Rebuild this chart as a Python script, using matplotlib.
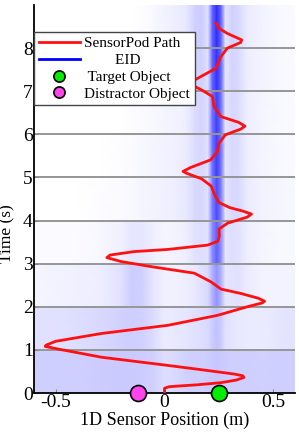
import numpy as np
import matplotlib.pyplot as plt
from matplotlib.colors import LinearSegmentedColormap

plt.rcParams['font.family'] = ['Liberation Serif', 'DejaVu Serif']

# EID rows, one per second (t 0-1, 1-2, ... 8-9), sampled at these positions
eid_x = [-0.6, -0.5, -0.4, -0.3, -0.2, -0.15, -0.1, -0.05, 0.0, 0.05, 0.1, 0.14,
         0.17, 0.2, 0.22, 0.24, 0.26, 0.28, 0.31, 0.34, 0.38, 0.45, 0.52, 0.6]
eid_t = [0, 1, 2, 3, 4, 5, 6, 7, 8, 9]
eid = [
    [0.19, 0.19, 0.19, 0.2, 0.21, 0.21, 0.2, 0.18, 0.13, 0.15, 0.18, 0.19, 0.19, 0.2, 0.21, 0.22, 0.21, 0.2, 0.19, 0.19, 0.19, 0.18, 0.19, 0.19],
    [0.12, 0.12, 0.13, 0.15, 0.18, 0.19, 0.18, 0.14, 0.08, 0.09, 0.1, 0.12, 0.13, 0.15, 0.2, 0.24, 0.2, 0.12, 0.1, 0.09, 0.08, 0.08, 0.1, 0.11],
    [0.04, 0.05, 0.06, 0.07, 0.12, 0.2, 0.18, 0.1, 0.06, 0.06, 0.07, 0.09, 0.12, 0.15, 0.3, 0.42, 0.3, 0.1, 0.11, 0.12, 0.08, 0.05, 0.05, 0.05],
    [0.02, 0.02, 0.02, 0.03, 0.06, 0.1, 0.1, 0.06, 0.04, 0.05, 0.07, 0.12, 0.13, 0.12, 0.45, 0.62, 0.45, 0.1, 0.13, 0.12, 0.07, 0.04, 0.03, 0.03],
    [0.0, 0.0, 0.0, 0.01, 0.02, 0.03, 0.04, 0.05, 0.06, 0.07, 0.09, 0.15, 0.16, 0.12, 0.5, 0.7, 0.5, 0.1, 0.15, 0.15, 0.08, 0.05, 0.04, 0.03],
    [0.0, 0.0, 0.0, 0.0, 0.01, 0.02, 0.03, 0.04, 0.05, 0.06, 0.08, 0.14, 0.16, 0.12, 0.55, 0.75, 0.55, 0.1, 0.15, 0.14, 0.07, 0.04, 0.03, 0.02],
    [0.0, 0.0, 0.0, 0.0, 0.0, 0.01, 0.02, 0.03, 0.04, 0.05, 0.07, 0.14, 0.17, 0.12, 0.55, 0.75, 0.55, 0.1, 0.16, 0.14, 0.07, 0.04, 0.03, 0.02],
    [0.0, 0.0, 0.0, 0.0, 0.0, 0.0, 0.01, 0.03, 0.05, 0.06, 0.08, 0.16, 0.18, 0.12, 0.6, 0.8, 0.6, 0.1, 0.17, 0.15, 0.07, 0.05, 0.03, 0.02],
    [0.0, 0.0, 0.0, 0.0, 0.0, 0.0, 0.01, 0.03, 0.05, 0.07, 0.09, 0.18, 0.2, 0.12, 0.6, 0.82, 0.6, 0.1, 0.18, 0.16, 0.08, 0.05, 0.03, 0.02],
]

# sensor path
path_x = [0.0, 0.0, 0.02, 0.06, 0.15, 0.26, 0.33, 0.365, 0.36, 0.32, 0.17, 0.015, -0.29, -0.5,
          -0.548, -0.545, -0.5, -0.29, 0.015, 0.243, 0.38, 0.45, 0.46, 0.43, 0.35, 0.26, 0.213,
          0.137, -0.06, -0.2, -0.265, -0.25, -0.14, 0.015, 0.198, 0.245, 0.252, 0.25, 0.29, 0.38,
          0.4, 0.36, 0.3, 0.25, 0.23, 0.215, 0.17, 0.1, 0.085, 0.12, 0.213, 0.243, 0.25, 0.28,
          0.35, 0.37, 0.34, 0.26, 0.228, 0.22, 0.167, 0.12, 0.115, 0.167, 0.236, 0.259, 0.289,
          0.35, 0.355, 0.289, 0.25, 0.236]
path_t = [0.0, 0.11, 0.145, 0.16, 0.19, 0.24, 0.3, 0.36, 0.4, 0.44, 0.54, 0.64, 0.83, 1.03,
          1.08, 1.11, 1.2, 1.38, 1.57, 1.8, 2.0, 2.09, 2.13, 2.2, 2.31, 2.41, 2.58,
          2.78, 2.93, 3.05, 3.14, 3.2, 3.28, 3.33, 3.43, 3.52, 3.65, 3.8, 3.94, 4.08,
          4.15, 4.22, 4.3, 4.42, 4.6, 4.8, 4.97, 5.1, 5.14, 5.23, 5.41, 5.6, 5.79, 5.99,
          6.12, 6.19, 6.28, 6.41, 6.64, 6.88, 7.04, 7.16, 7.19, 7.34, 7.53, 7.8, 8.0,
          8.13, 8.19, 8.34, 8.46, 8.58]

target_x = 0.25
distractor_x = -0.12

fig = plt.figure(figsize=(2.99, 4.36), dpi=100)
ax = fig.add_axes([34/299, 43/436, 261/299, 388/436])

# build a mesh so each 1 s row is flat in time but smooth in x
ex = np.array(eid_x)
ev = np.array(eid)
X = []
T = []
V = []
for i in range(len(eid)):
    for tt in (eid_t[i], eid_t[i+1]):
        X.append(ex)
        T.append(np.full(len(ex), tt))
        V.append(ev[i])
cmap = LinearSegmentedColormap.from_list('wb', ['#ffffff', '#0000ff'])
ax.pcolormesh(np.array(X), np.array(T), np.array(V), shading='gouraud', cmap=cmap,
              vmin=0, vmax=1, zorder=0)

for k in range(1, 9):
    ax.axhline(k, color='#969696', lw=1.4, zorder=1)

ax.plot(path_x, path_t, color='#ff1010', lw=2, zorder=3, label='SensorPod Path')
ax.plot([], [], color='#0000ff', lw=2, label='        EID')
ax.plot([target_x], [0], 'o', ms=11.5, mfc='#00ee00', mec='k', mew=1.2, clip_on=False,
        zorder=5, label=' Target Object')
ax.plot([distractor_x], [0], 'o', ms=11.5, mfc='#ff44ee', mec='k', mew=1.2, clip_on=False,
        zorder=5, label='Distractor Object')

ax.set_xlim(-0.6, 0.6)
ax.set_ylim(0, 9)
ax.set_xticks([-0.5, 0, 0.5])
ax.set_xticklabels(['-0.5', '0', '0.5'])
ax.set_yticks(range(9))
ax.tick_params(direction='in', labelsize=14, length=3, color='#888888', pad=1)
ax.spines['top'].set_visible(False)
ax.spines['right'].set_visible(False)
ax.spines['left'].set_linewidth(1.3)
ax.spines['bottom'].set_linewidth(1.3)
ax.set_xlabel('1D Sensor Position (m)', fontsize=13, labelpad=0)
ax.set_ylabel('Time (s)', fontsize=12.5, labelpad=0)
ax.yaxis.set_label_coords(-0.07, 0.41)

leg = ax.legend(loc='upper left', bbox_to_anchor=(0, 0.93), fontsize=11, frameon=True,
                fancybox=False, edgecolor='#444444', framealpha=1, borderaxespad=0,
                handlelength=2.7, handletextpad=0.3, labelspacing=0.2, borderpad=0.3,
                markerscale=0.7)
leg.get_frame().set_linewidth(1.0)

fig.savefig('out.png', dpi=100)
